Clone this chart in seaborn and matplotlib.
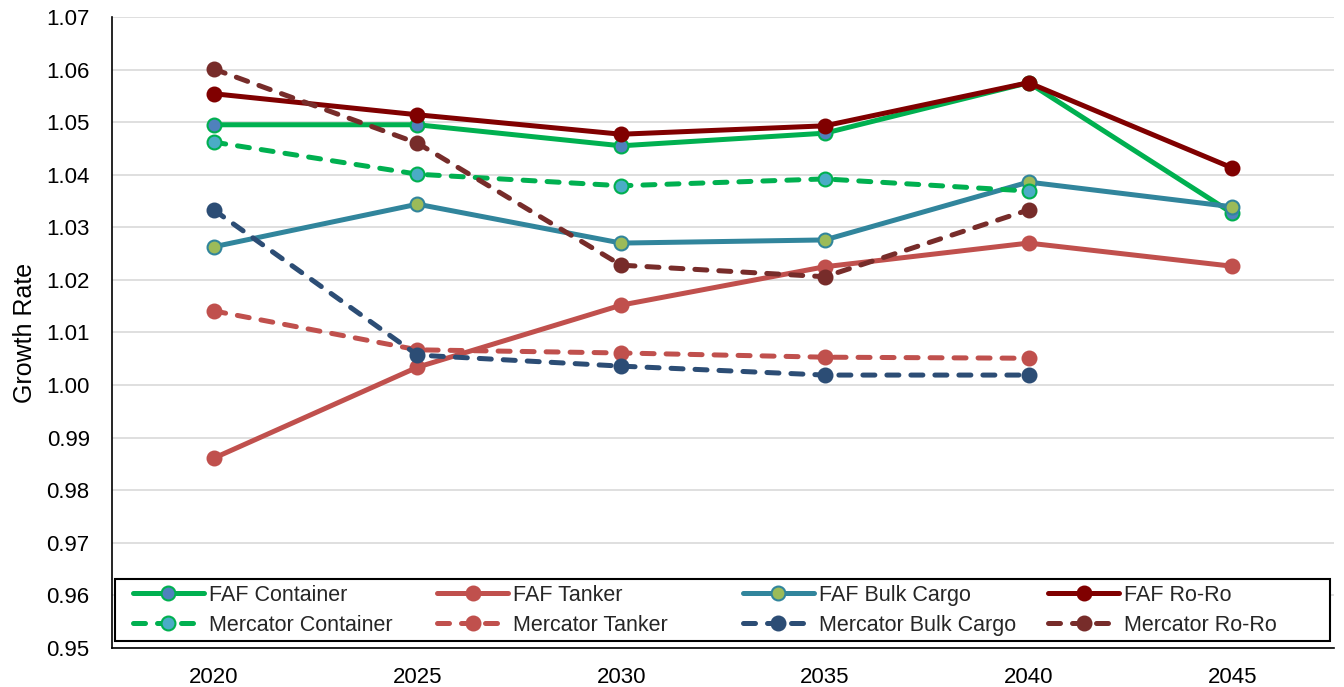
import matplotlib
matplotlib.use("Agg")
import matplotlib.pyplot as plt
import matplotlib.patches as mpatches
from matplotlib.legend import Legend
import seaborn as sns
import pandas as pd

years = ["2020", "2025", "2030", "2035", "2040", "2045"]

faf_container = [1.0495, 1.0495, 1.0455, 1.0479, 1.0575, 1.0327]
faf_tanker = [0.9861, 1.0034, 1.0152, 1.0225, 1.0270, 1.0226]
faf_bulk = [1.0263, 1.0344, 1.0270, 1.0276, 1.0386, 1.0339]
faf_roro = [1.0554, 1.0514, 1.0477, 1.0493, 1.0575, 1.0413]
merc_container = [1.0462, 1.0401, 1.0379, 1.0392, 1.0369]
merc_tanker = [1.0141, 1.0067, 1.0061, 1.0053, 1.0051]
merc_bulk = [1.0333, 1.0057, 1.0036, 1.0019, 1.0019]
merc_roro = [1.0601, 1.0460, 1.0228, 1.0206, 1.0333]

# name, values, line colour, marker face colour, dashed
series = [
    ("FAF Container", faf_container, "#00B050", "#4F81BD", False),
    ("FAF Tanker", faf_tanker, "#C0504D", "#C0504D", False),
    ("FAF Bulk Cargo", faf_bulk, "#31859C", "#9BBB59", False),
    ("FAF Ro-Ro", faf_roro, "#800000", "#800000", False),
    ("Mercator Container", merc_container, "#00B050", "#4BACC6", True),
    ("Mercator Tanker", merc_tanker, "#C0504D", "#C0504D", True),
    ("Mercator Bulk Cargo", merc_bulk, "#2C4D75", "#2C4D75", True),
    ("Mercator Ro-Ro", merc_roro, "#772C2A", "#772C2A", True),
]

sns.set_theme(style="white")
plt.rcParams["font.family"] = ["Liberation Sans", "DejaVu Sans"]

fig = plt.figure(figsize=(13.44, 6.87), dpi=100)
ax = fig.add_axes([0.0833, 0.0568, 0.9093, 0.9185])

handles = {}
for name, vals, col, face, dashed in series:
    df = pd.DataFrame({"Year": years[:len(vals)], "Growth Rate": vals})
    sns.lineplot(data=df, x="Year", y="Growth Rate", ax=ax, color=col,
                 linewidth=3.6, marker="o", markersize=10,
                 markerfacecolor=face, markeredgecolor=col, markeredgewidth=1.5,
                 linestyle=(0, (2.4, 2.4)) if dashed else "-",
                 dash_capstyle="round", solid_capstyle="round",
                 label=name, legend=False)
    handles[name] = ax.lines[-1]

ax.set_xlim(-0.5, 5.5)
ax.set_ylim(0.95, 1.07)
ax.set_yticks([0.95 + 0.01 * i for i in range(13)])
ax.set_yticklabels([f"{0.95 + 0.01 * i:.2f}" for i in range(13)])
ax.grid(axis="y", color="#D9D9D9", linewidth=1.2)
ax.set_axisbelow(True)
for s in ["top", "right"]:
    ax.spines[s].set_visible(False)
for s in ["left", "bottom"]:
    ax.spines[s].set_color("black")
    ax.spines[s].set_linewidth(1.2)
ax.tick_params(axis="both", length=0, labelsize=16, colors="black")
ax.tick_params(axis="x", pad=14)
ax.tick_params(axis="y", pad=16)
ax.set_xlabel("")
ax.set_ylabel("Growth Rate", fontsize=18, color="black", labelpad=7)

# legend: one framed box holding four equally spaced columns
frame = mpatches.Rectangle((0.0025, 0.011), 0.994, 0.098, transform=ax.transAxes,
                           facecolor="white", edgecolor="black", linewidth=1.5,
                           zorder=4)
ax.add_patch(frame)
columns = [("FAF Container", "Mercator Container"),
           ("FAF Tanker", "Mercator Tanker"),
           ("FAF Bulk Cargo", "Mercator Bulk Cargo"),
           ("FAF Ro-Ro", "Mercator Ro-Ro")]
col_x = [0.0172, 0.266, 0.516, 0.766]
for cx, names in zip(col_x, columns):
    leg = Legend(ax, [handles[n] for n in names], list(names), loc="center left",
                 bbox_to_anchor=(cx, 0.060), fontsize=15.5, frameon=False,
                 handlelength=3.3, handletextpad=0.23, borderpad=0,
                 borderaxespad=0, labelspacing=0.42)
    leg.set_zorder(5)
    ax.add_artist(leg)

fig.savefig("out.png", dpi=100)
